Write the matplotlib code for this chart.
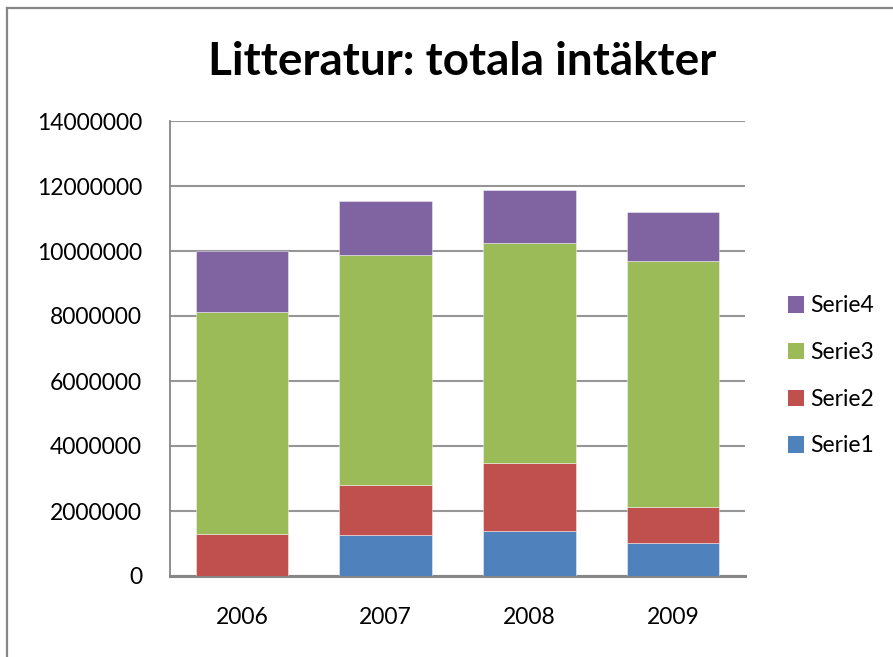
import matplotlib
matplotlib.use("Agg")
import matplotlib.pyplot as plt
from matplotlib.patches import Patch
from matplotlib.lines import Line2D
import numpy as np

years = ["2006", "2007", "2008", "2009"]
serie1 = [0, 1270000, 1400000, 1015000]
serie2 = [1290000, 1540000, 2080000, 1095000]
serie3 = [6820000, 7080000, 6760000, 7580000]
serie4 = [1890000, 1660000, 1640000, 1510000]
series_names = ["Serie1", "Serie2", "Serie3", "Serie4"]
colors = ["#4F81BD", "#C0504D", "#9BBB59", "#8064A2"]
yticks = [0, 2000000, 4000000, 6000000, 8000000, 10000000, 12000000, 14000000]

plt.rcParams['font.family'] = ['Lato', 'DejaVu Sans']

W, H = 893, 657
fig = plt.figure(figsize=(W / 100, H / 100), dpi=100)
ax = fig.add_axes([170 / W, (H - 576) / H, (745 - 170) / W, (576 - 121) / H])

x = np.arange(len(years))
bottom = np.zeros(len(years))
handles = []
for name, vals, c in zip(series_names, [serie1, serie2, serie3, serie4], colors):
    ax.bar(x, vals, width=0.645, bottom=bottom, color=c, edgecolor=(1, 1, 1, 0.5),
           linewidth=0.6, zorder=3)
    bottom += np.array(vals)
    handles.append(Patch(facecolor=c, edgecolor='none', label=name))

ax.set_xlim(-0.5, 3.5)
ax.set_ylim(0, 14000000)
ax.set_yticks(yticks)
ax.set_yticklabels([str(v) for v in yticks])
ax.set_xticks(x)
ax.set_xticklabels(years)
ax.tick_params(axis='y', length=0, pad=20, labelsize=16.5, colors='black')
ax.tick_params(axis='x', length=0, pad=22, labelsize=16.5, colors='black')
ax.yaxis.grid(True, color='#969696', linewidth=1.5, zorder=0)
ax.set_axisbelow(True)
for s in ['top', 'right']:
    ax.spines[s].set_visible(False)
ax.spines['left'].set_color('#868686')
ax.spines['left'].set_linewidth(1.3)
ax.spines['bottom'].set_color('#868686')
ax.spines['bottom'].set_linewidth(2.2)

leg = fig.legend(handles=handles[::-1], loc='center left',
                 bbox_to_anchor=(767 / W, 1 - 376 / H), frameon=False,
                 fontsize=16.5, handlelength=0.7, handleheight=0.7,
                 handletextpad=0.3, labelspacing=1.12)

fig.text(0.5 * (208 + 716) / W, 1 - 62 / H, "Litteratur: totala intäkter",
         ha='center', va='center', fontsize=33, fontweight='bold')

# outer chart border (top and left visible)
fig.add_artist(Line2D([7 / W, 1.01], [1 - 8 / H, 1 - 8 / H], transform=fig.transFigure,
                      color='#868686', linewidth=1.6))
fig.add_artist(Line2D([7 / W, 7 / W], [1 - 8 / H, -0.01], transform=fig.transFigure,
                      color='#868686', linewidth=1.6))

fig.savefig("out.png", dpi=100)
